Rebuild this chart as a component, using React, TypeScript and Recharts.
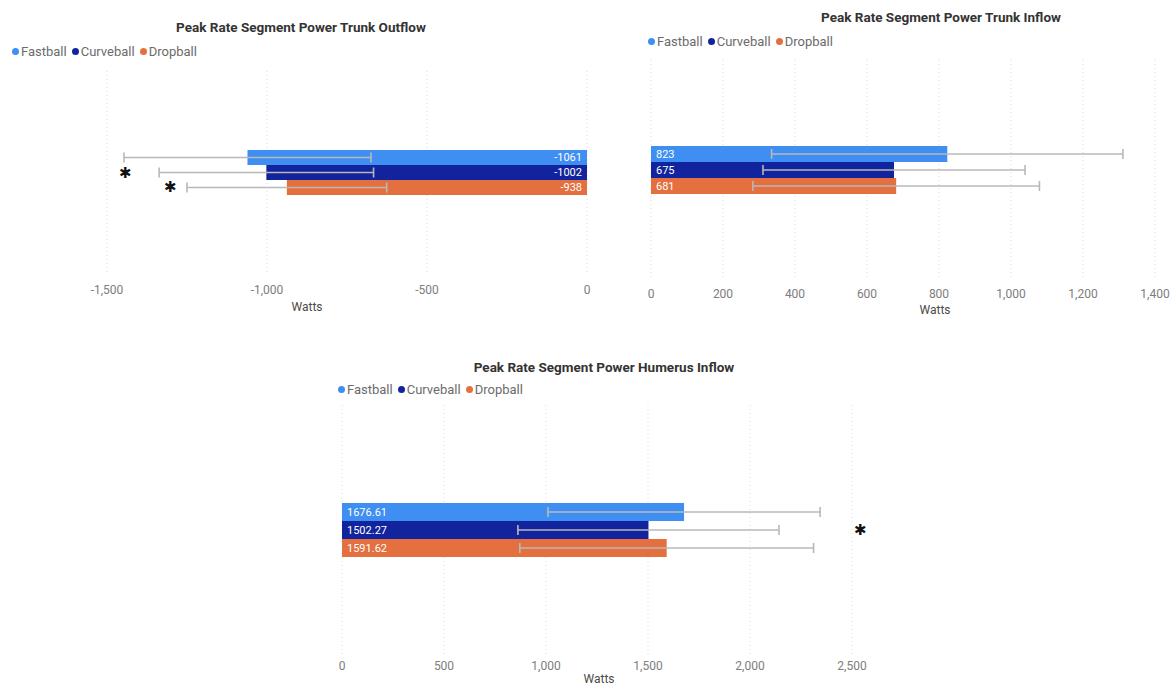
import React from 'react'
import {
  BarChart,
  Bar,
  XAxis,
  YAxis,
  CartesianGrid,
  ErrorBar,
  LabelList,
  Legend,
  Label,
} from 'recharts'

const pitches = ['Fastball', 'Curveball', 'Dropball']

// Trunk outflow (negative watts)
const outflowMeans = [-1061, -1002, -938]
const outflowSd = [386, 335, 312]
const outflowTicks = [-1500, -1000, -500, 0]

// Trunk inflow
const trunkInflowMeans = [823, 675, 681]
const trunkInflowSd = [488, 364, 398]
const trunkInflowTicks = [0, 200, 400, 600, 800, 1000, 1200, 1400]

// Humerus inflow
const humerusMeans = [1676.61, 1502.27, 1591.62]
const humerusSd = [667, 640, 720]
const humerusTicks = [0, 500, 1000, 1500, 2000, 2500]

const pitchColors = ['#3F8EF2', '#12239E', '#E3703E']
const FONT = "Roboto, 'Noto Sans', sans-serif"

function buildRows(means: number[], sd: number[]) {
  const row: Record<string, any> = { name: 'Watts' }
  pitches.forEach((p, i) => {
    row[p] = means[i]
    row[p + 'Sd'] = sd[i]
  })
  return [row]
}

function PitchLegend() {
  return (
    <div style={{ display: 'flex', fontFamily: FONT, fontSize: 13, color: '#6b6b6b', whiteSpace: 'nowrap' }}>
      {pitches.map((p, i) => (
        <span key={p} style={{ display: 'flex', alignItems: 'center', marginRight: 5 }}>
          <span
            style={{
              width: 7,
              height: 7,
              borderRadius: '50%',
              background: pitchColors[i],
              marginRight: 2,
              display: 'inline-block',
            }}
          />
          {p}
        </span>
      ))}
    </div>
  )
}

interface PanelProps {
  title: string
  means: number[]
  sd: number[]
  ticks: number[]
  left: number
  top: number
  width: number
  height: number
  margin: { top: number; right: number; left: number; bottom: number }
  axisHeight: number
  barSize: number
  labelPos: 'insideLeft' | 'insideRight'
  titleX: number
  titleY: number
  legendX: number
  legendY: number
  tickMargin: number
  wattsOffset: number
  wattsDx: number
}

function Panel(props: PanelProps) {
  const data = buildRows(props.means, props.sd)
  const domain = [props.ticks[0], props.ticks[props.ticks.length - 1]]
  return (
    <div style={{ position: 'absolute', left: props.left, top: props.top, width: props.width, height: props.height }}>
      <div
        style={{
          position: 'absolute',
          left: props.titleX - props.left - 200,
          top: props.titleY - props.top - 9,
          width: 400,
          textAlign: 'center',
          fontFamily: FONT,
          fontWeight: 700,
          fontSize: 13.5,
          color: '#333',
          whiteSpace: 'nowrap',
        }}
      >
        {props.title}
      </div>
      <BarChart
        width={props.width}
        height={props.height}
        data={data}
        layout="vertical"
        margin={props.margin}
        barGap={0}
        barSize={props.barSize}
      >
        <CartesianGrid horizontal={false} strokeDasharray="1 3" stroke="#dcdcdc" />
        <XAxis
          type="number"
          domain={domain}
          ticks={props.ticks}
          interval={0}
          allowDataOverflow
          axisLine={false}
          tickLine={false}
          tickSize={0}
          tickMargin={props.tickMargin}
          height={props.axisHeight}
          tick={{ fill: '#7d7d7d', fontSize: 12, fontFamily: FONT }}
          tickFormatter={(v) => Number(v).toLocaleString('en-US')}
        >
          <Label
            position="insideBottom"
            offset={props.wattsOffset}
            content={({ viewBox }: any) => (
              <text
                x={viewBox.x + viewBox.width / 2 + props.wattsDx}
                y={viewBox.y + viewBox.height - props.wattsOffset}
                textAnchor="middle"
                fill="#4a4a4a"
                fontSize={12}
                fontFamily={FONT}
              >
                Watts
              </text>
            )}
          />
        </XAxis>
        <YAxis type="category" dataKey="name" hide />
        <Legend
          verticalAlign="middle"
          align="center"
          content={() => <PitchLegend />}
          wrapperStyle={{ left: props.legendX - props.left, top: props.legendY - props.top - 9, width: 'auto', height: 'auto' }}
        />
        {pitches.map((p, i) => (
          <Bar key={p} dataKey={p} fill={pitchColors[i]} isAnimationActive={false}>
            <LabelList
              dataKey={p}
              position={props.labelPos}
              offset={5}
              fill="#ffffff"
              fontSize={11}
              fontFamily={FONT}
            />
            <ErrorBar dataKey={p + 'Sd'} direction="x" width={5} stroke="#b8b8b8" strokeWidth={1.6} isAnimationActive={false} />
          </Bar>
        ))}
      </BarChart>
    </div>
  )
}

const starStyle: React.CSSProperties = {
  position: 'absolute',
  fontFamily: "'DejaVu Sans', sans-serif",
  fontSize: 15,
  fontWeight: 700,
  color: '#111',
  lineHeight: '16px',
}

export default function App() {
  return (
    <div style={{ position: 'absolute', left: 0, top: 0, width: 1170, height: 686, background: '#fff', overflow: 'hidden' }}>
      <Panel
        title="Peak Rate Segment Power Trunk Outflow"
        means={outflowMeans}
        sd={outflowSd}
        ticks={outflowTicks}
        left={0}
        top={0}
        width={600}
        height={320}
        margin={{ top: 71, right: 13, left: 107, bottom: 0 }}
        axisHeight={47}
        barSize={15}
        labelPos="insideLeft"
        titleX={301}
        titleY={28}
        legendX={12}
        legendY={53}
        tickMargin={12}
        wattsOffset={9}
        wattsDx={-40}
      />
      <Panel
        title="Peak Rate Segment Power Trunk Inflow"
        means={trunkInflowMeans}
        sd={trunkInflowSd}
        ticks={trunkInflowTicks}
        left={600}
        top={0}
        width={570}
        height={320}
        margin={{ top: 60, right: 15, left: 51, bottom: 0 }}
        axisHeight={40}
        barSize={16}
        labelPos="insideLeft"
        titleX={941}
        titleY={18}
        legendX={648}
        legendY={43}
        tickMargin={9}
        wattsOffset={6}
        wattsDx={32}
      />
      <Panel
        title="Peak Rate Segment Power Humerus Inflow"
        means={humerusMeans}
        sd={humerusSd}
        ticks={humerusTicks}
        left={300}
        top={340}
        width={600}
        height={346}
        margin={{ top: 65, right: 48, left: 42, bottom: 0 }}
        axisHeight={31}
        barSize={18}
        labelPos="insideLeft"
        titleX={604}
        titleY={368}
        legendX={338}
        legendY={391}
        tickMargin={6}
        wattsOffset={3}
        wattsDx={2}
      />
      <span style={{ ...starStyle, left: 119, top: 165 }}>✱</span>
      <span style={{ ...starStyle, left: 164, top: 179 }}>✱</span>
      <span style={{ ...starStyle, left: 854, top: 522 }}>✱</span>
    </div>
  )
}
